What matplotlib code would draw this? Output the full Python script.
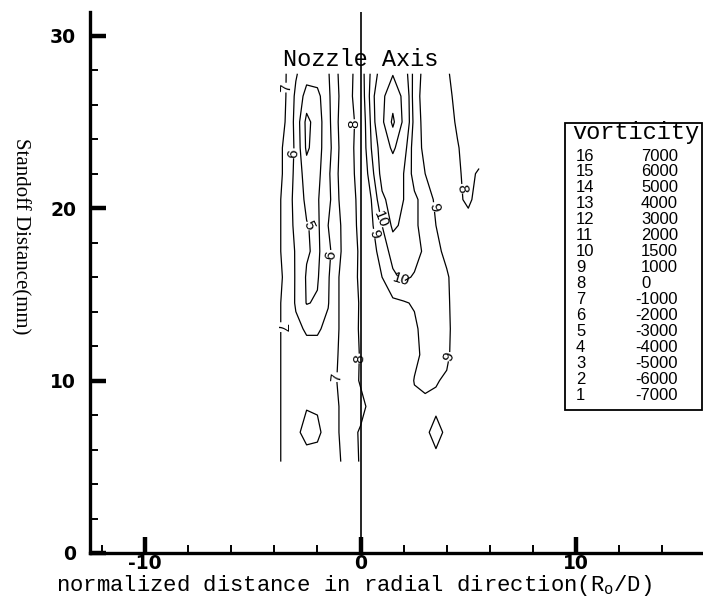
import numpy as np
import matplotlib
matplotlib.use('Agg')
import matplotlib.pyplot as plt
from matplotlib.patches import Rectangle

plt.rcParams['axes.unicode_minus'] = False
plt.rcParams['mathtext.fontset'] = 'custom'
plt.rcParams['mathtext.rm'] = 'Liberation Mono'

# ---------------- data ----------------
x_grid = [-4.0, -3.5, -3.0, -2.5, -2.0, -1.5, -1.0, -0.5, 0.0, 0.5,
          1.0, 1.5, 2.0, 2.5, 3.0, 3.5, 4.0, 4.5, 5.0, 5.5]
# rows listed from top (27.8 mm) to bottom (5.3 mm)
y_grid = [27.8, 26.5, 25, 23.5, 22, 20.5, 19, 17.5, 16, 14.5, 13, 11.5,
          10, 8.5, 7, 5.3]
# vorticity in units of 1000 1/s
vort_k = [
    [-0.7, -0.9, -1.9, -2.6, -2.5, -2.1, -0.9, -0.3, 0.7, 1.6, 2.3, 2.95, 2.4, 1.3, 0.8, 0.6, 0.1, -0.3, -0.5, -0.5],
    [-0.7, -0.9, -2.2, -3.4, -3.3, -2.2, -1.0, -0.2, 0.6, 1.7, 2.8, 3.6, 2.8, 1.2, 0.8, 0.6, 0.2, -0.2, -0.5, -0.5],
    [-0.7, -1.0, -2.3, -4.3, -3.5, -2.3, -0.9, -0.4, 0.5, 1.6, 2.8, 4.2, 2.8, 1.3, 0.8, 0.5, 0.3, -0.1, -0.4, -0.5],
    [-0.7, -1.1, -2.2, -4.2, -3.4, -2.4, -1.0, -0.3, 0.5, 1.5, 2.3, 3.2, 2.3, 1.2, 0.9, 0.6, 0.35, 0.05, -0.3, -0.4],
    [-0.7, -1.1, -2.3, -3.5, -3.3, -2.2, -0.9, -0.3, 0.4, 1.3, 2.2, 2.3, 2.0, 1.3, 1.0, 0.7, 0.4, 0.1, -0.2, 0.1],
    [-0.7, -1.2, -2.4, -3.2, -3.1, -2.3, -1.0, -0.4, 0.3, 1.0, 1.9, 2.2, 2.0, 1.6, 1.3, 0.9, 0.5, 0.1, -0.1, 0.2],
    [-0.7, -1.2, -2.3, -2.95, -3.2, -2.0, -1.1, -0.5, 0.3, 0.9, 1.5, 2.1, 1.9, 1.6, 1.3, 1.0, 0.6, 0.3, 0.2, 0.3],
    [-0.7, -1.2, -2.1, -2.9, -3.2, -2.3, -1.1, -0.6, 0.2, 0.8, 1.2, 1.7, 1.9, 1.7, 1.4, 1.2, 0.8, 0.4, 0.3, 0.3],
    [-0.7, -1.1, -2.1, -3.1, -3.1, -2.1, -1.0, -0.5, 0.2, 0.7, 1.0, 1.4, 1.6, 1.45, 1.3, 1.2, 1.1, 0.6, 0.3, 0.3],
    [-0.7, -1.2, -2.1, -3.05, -2.9, -2.05, -1.0, -0.5, 0.1, 0.5, 0.7, 0.9, 0.95, 1.05, 1.3, 1.4, 1.15, 0.6, 0.3, 0.3],
    [-0.7, -1.2, -1.8, -2.1, -2.1, -1.8, -1.0, -0.4, 0.1, 0.4, 0.6, 0.7, 0.8, 0.9, 1.2, 1.3, 1.2, 0.6, 0.3, 0.3],
    [-0.7, -1.2, -1.6, -1.7, -1.7, -1.5, -0.95, -0.4, 0.05, 0.4, 0.5, 0.6, 0.7, 0.9, 1.1, 1.2, 1.15, 0.6, 0.3, 0.3],
    [-0.7, -1.2, -1.5, -1.6, -1.6, -1.4, -0.9, -0.5, 0.1, 0.3, 0.5, 0.6, 0.7, 1.02, 1.1, 1.05, 0.9, 0.5, 0.3, 0.3],
    [-0.7, -1.2, -1.7, -1.95, -1.9, -1.5, -1.0, -0.4, -0.3, 0.3, 0.4, 0.5, 0.7, 0.9, 0.9, 0.85, 0.7, 0.4, 0.3, 0.3],
    [-0.7, -1.2, -1.8, -2.3, -2.2, -1.6, -1.0, -0.3, 0.1, 0.3, 0.4, 0.5, 0.6, 0.7, 0.85, 1.25, 0.85, 0.4, 0.3, 0.3],
    [-0.7, -1.2, -1.5, -1.6, -1.6, -1.4, -1.1, -0.5, 0.1, 0.3, 0.4, 0.5, 0.6, 0.7, 0.8, 0.8, 0.7, 0.4, 0.3, 0.3],
]

level_ids = [16, 15, 14, 13, 12, 11, 10, 9, 8, 7, 6, 5, 4, 3, 2, 1]
level_values = [7000, 6000, 5000, 4000, 3000, 2000, 1500, 1000, 0,
                -1000, -2000, -3000, -4000, -5000, -6000, -7000]

# approximate positions of the in-line contour labels
label_points = [(-3.55, 27.0), (-0.4, 24.9), (-3.2, 23.2), (4.4, 21.0),
                (3.3, 20.0), (1.1, 19.5), (0.6, 18.5), (-2.4, 19.0),
                (-1.4, 17.3), (1.9, 16.0), (-3.6, 13.1), (-0.2, 11.3),
                (4.1, 11.4), (-1.1, 10.2)]

x_major = [-10, 0, 10]
y_major = [0, 10, 20, 30]

# ---------------- figure ----------------
W, H = 703, 598
fig = plt.figure(figsize=(W / 100, H / 100), dpi=100)
ax = fig.add_axes([90 / W, 45 / H, 613 / W, 541 / H])

X = np.array(x_grid)
Y = np.array(y_grid)[::-1]
Z = np.array(vort_k)[::-1] * 1000.0

cs = ax.contour(X, Y, Z, levels=sorted(level_values), colors='k',
                linewidths=0.9, linestyles='solid')
fmt = {v: str(i) for v, i in zip(level_values, level_ids)}
labels = ax.clabel(cs, fmt=fmt, manual=label_points, inline=True,
                   inline_spacing=2, fontsize=11)
for t in labels:
    t.set_fontfamily('Liberation Sans')

# nozzle axis
ax.axvline(0, color='k', lw=1.2)
ax.text(0, 28.65, 'Nozzle Axis', ha='center', va='center',
        family='Liberation Mono', fontsize=17)

ax.set_xlim(-12.55, 15.89)
ax.set_ylim(0, 31.38)

for s in ['top', 'right']:
    ax.spines[s].set_visible(False)
for s in ['left', 'bottom']:
    ax.spines[s].set_linewidth(2.4)

ax.set_xticks(x_major)
ax.set_yticks(y_major)
ax.set_xticks(np.arange(-12, 16, 2), minor=True)
ax.set_yticks(np.arange(0, 31, 2), minor=True)
ax.tick_params(which='major', direction='in', length=11.5, width=3.2,
               labelsize=13.5)
ax.tick_params(which='minor', direction='in', length=5.8, width=1.4)
ax.tick_params(axis='x', which='major', pad=1)
ax.tick_params(axis='y', which='major', pad=10)
for lab in ax.get_xticklabels() + ax.get_yticklabels():
    lab.set_fontfamily('DejaVu Sans')
    lab.set_fontweight('bold')

# axis titles
fig.text(354 / W, 1 - 591 / H,
         r'normalized distance in radial direction(R$_{\mathrm{o}}$/D)',
         ha='center', va='baseline', family='Liberation Mono', fontsize=16)
fig.text(20 / W, 1 - 236 / H, 'Standoff Distance(mm)', rotation=-90,
         ha='center', va='center', family='Liberation Serif', fontsize=15)

# legend box
fig.patches.append(Rectangle((565 / W, 1 - 410 / H), 137 / W, 287 / H,
                             transform=fig.transFigure, fill=False,
                             ec='k', lw=1.3))
fig.text(572 / W, 1 - 133 / H, 'vorticity', ha='left', va='center',
         family='Liberation Mono', fontsize=17)
row0, dy = 156, 16.0
narrow = ['Liberation Sans Narrow', 'Liberation Sans']
for k, (lid, val) in enumerate(zip(level_ids, level_values)):
    yy = 1 - (row0 + k * dy) / H
    fig.text(576 / W, yy, str(lid), ha='left', va='center',
             family=narrow, fontsize=12)
    xx = 641 if val >= 0 else 635
    fig.text(xx / W, yy, str(val), ha='left', va='center',
             family=narrow, fontsize=12)

fig.savefig('out.png', dpi=100)
